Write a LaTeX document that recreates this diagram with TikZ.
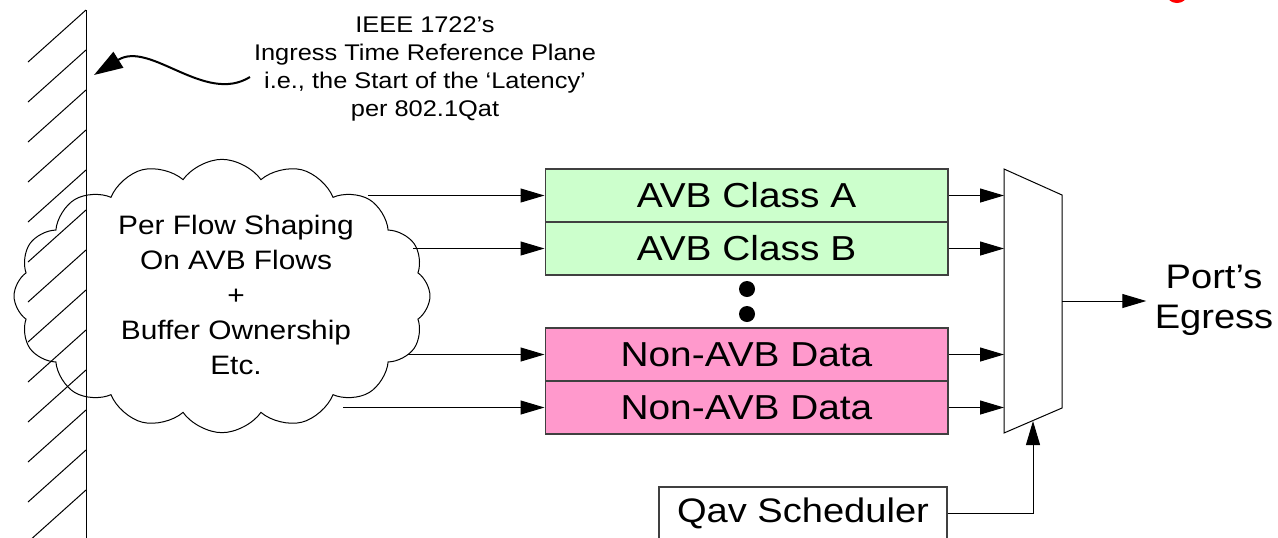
\documentclass[tikz,border=0pt]{standalone}
\usepackage{fontspec}
\setmainfont{Liberation Sans}[FakeStretch=1.12]
\usetikzlibrary{arrows.meta,shapes.symbols}

\definecolor{avbgreen}{RGB}{204,255,204}
\definecolor{avbpink}{RGB}{255,153,204}
\definecolor{boxline}{RGB}{64,64,64}

\tikzset{every picture/.style={line width=0.75pt}}
\tikzset{
  queue/.style={draw=boxline, line width=1pt, minimum width=302pt, minimum height=39.75pt, inner sep=0pt, font=\fontsize{26}{30}\selectfont},
  flow/.style={-{Triangle[length=18pt,width=10.5pt]}},
}

\begin{document}
\begin{tikzpicture}[x=0.75pt,y=0.75pt,yscale=-1,xscale=1]
\useasboundingbox (0,0) rectangle (1278,537);
\clip (0,0) rectangle (1278,537);

%Shape: Cloud
\node [cloud, draw, cloud puffs=16, cloud puff arc=110, aspect=1.54, minimum width=312pt, minimum height=205pt, inner sep=0pt] (shaper) at (222,296) {};
% Text Node
\node [align=center, font=\fontsize{20}{26.25}\selectfont] (shapertxt) at (236,295) {Per Flow Shaping\\On AVB Flows\\+\\Buffer Ownership\\Etc.};

%Straight Lines: reference plane
\draw (86,10) -- (86,545);
\foreach \t in {10,50,...,490} \draw (86,\t) -- (28,\t+52);

% Text Node
\node [align=center, font=\fontsize{17}{21}\selectfont] (note) at (425,69) {IEEE 1722's\\Ingress Time Reference Plane\\i.e., the Start of the ‘Latency’\\per 802.1Qat};
%Curve Lines
\coordinate (noteTail) at (250,77);
\coordinate (planeMark) at (94,75);
\draw [-{Triangle[length=21.6pt,width=13.8pt]}, line width=1.5pt] (noteTail) .. controls (205,105) and (150,40) .. (planeMark);

%Shape: Rectangle
\node [queue, fill=avbgreen] (clsA) at (746.5,195.5) {AVB Class A};
\node [queue, fill=avbgreen] (clsB) at (746.5,248.5) {AVB Class B};
\node [queue, fill=avbpink] (nonA) at (746.5,354.5) {Non-AVB Data};
\node [queue, fill=avbpink] (nonB) at (746.5,407.5) {Non-AVB Data};
%Shape: Circle
\fill (747,289) circle [radius=6pt];
\fill (747,314) circle [radius=6pt];

%Shape: Trapezoid
\coordinate (muxTL) at (1004,169);
\coordinate (muxTR) at (1062,195);
\coordinate (muxBR) at (1062,408);
\coordinate (muxBL) at (1004,433);
\draw (muxTL) -- (muxTR) -- (muxBR) -- (muxBL) -- cycle;

%Straight Lines
\coordinate (inA) at (368,195.5);
\coordinate (inB) at (413,248.5);
\coordinate (inC) at (408,354.5);
\coordinate (inD) at (343,407.5);
\draw [flow] (inA) -- (clsA.west);
\draw [flow] (inB) -- (clsB.west);
\draw [flow] (inC) -- (nonA.west);
\draw [flow] (inD) -- (nonB.west);
\foreach \q in {clsA,clsB,nonA,nonB} \draw [flow] (\q.east) -- (\q.east -| muxTL);

% Text Node
\node [align=center, font=\fontsize{25.5}{30}\selectfont, inner sep=6pt] (egress) at (1214,300) {Port’s\\Egress};
\coordinate (muxOut) at (1062,301);
\draw [flow] (muxOut) -- (muxOut -| egress.west);

%Shape: Rectangle
\node [draw=boxline, line width=1pt, minimum width=216pt, minimum height=39pt, inner sep=0pt, font=\fontsize{25.5}{30}\selectfont] (qav) at (803,513) {Qav Scheduler};
\coordinate (muxSel) at (1033,421);
\draw [flow] (qav.east) -| (muxSel);

%Shape: Ellipse
\fill [red] (1177,-5) ellipse [x radius=7.5pt, y radius=6pt];

\end{tikzpicture}
\end{document}
